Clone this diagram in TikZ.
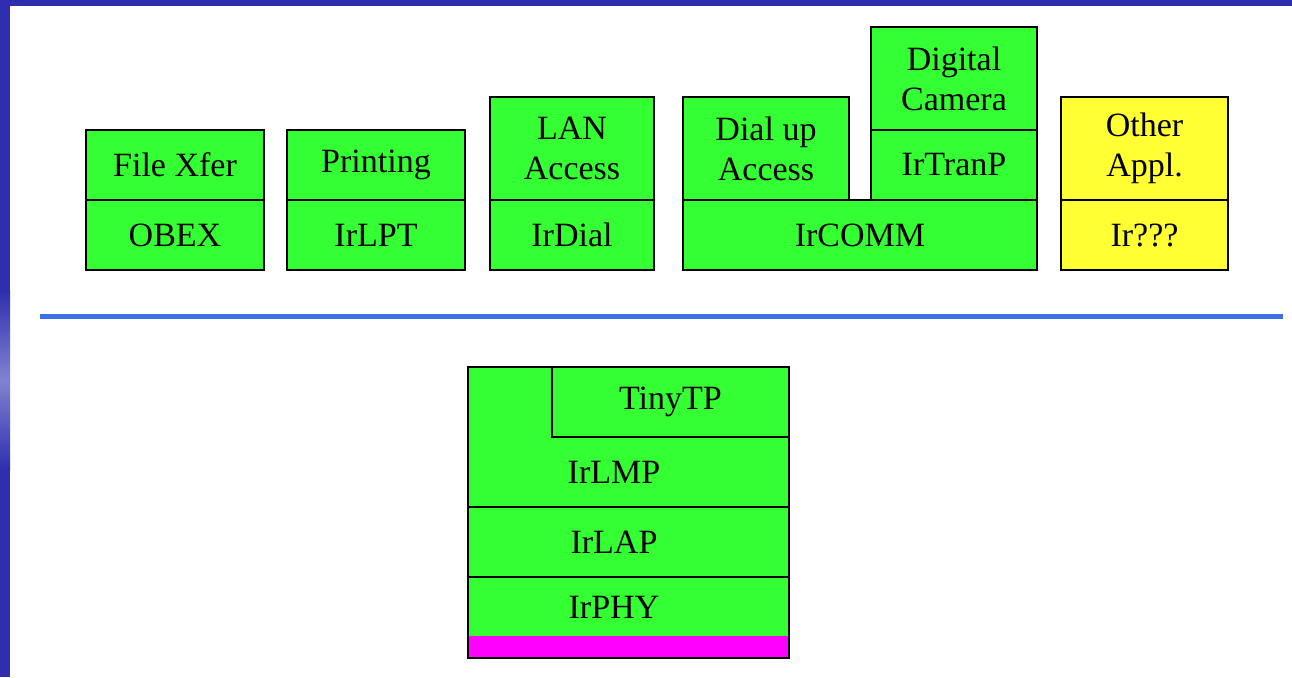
\documentclass[tikz,border=0pt]{standalone}
\usepackage{fontspec}
\setmainfont{Liberation Serif}
\begin{document}
\begin{tikzpicture}[x=0.5pt,y=-0.5pt,
  cell/.style={draw=black,line width=1pt,fill=cgreen,inner sep=0pt,outer sep=0pt,
    anchor=north west,align=center,font=\fontsize{17}{20}\selectfont},
  ycell/.style={cell,fill=cyellow},
  lbl/.style={inner sep=0pt,font=\fontsize{17}{20}\selectfont}]
\definecolor{cgreen}{HTML}{33FF33}
\definecolor{cyellow}{HTML}{FFFF33}
\definecolor{cmag}{HTML}{FF00FF}
\definecolor{cframe}{HTML}{2E2EAE}
\definecolor{clight}{HTML}{8282D2}
\definecolor{cline}{HTML}{3D6FE6}
\useasboundingbox (0,0) rectangle (1292,677);
\fill[white] (0,0) rectangle (1292,677);
% frame
\fill[cframe] (0,0) rectangle (1292,6);
\fill[cframe] (0,0) rectangle (10,677);
\shade[top color=cframe,bottom color=clight] (0,290) rectangle (10,380);
\shade[top color=clight,bottom color=cframe] (0,380) rectangle (10,470);
% application boxes
\node[cell,minimum width=89pt,minimum height=35pt] (filexfer) at (86,130) {File Xfer};
\node[cell,minimum width=89pt,minimum height=35pt] (obex) at (86,200) {OBEX};
\node[cell,minimum width=89pt,minimum height=35pt] (printing) at (287,130) {Printing};
\node[cell,minimum width=89pt,minimum height=35pt] (irlpt) at (287,200) {IrLPT};
\node[cell,minimum width=82pt,minimum height=51.5pt] (lan) at (490,97) {LAN\\Access};
\node[cell,minimum width=82pt,minimum height=35pt] (irdial) at (490,200) {IrDial};
\node[cell,minimum width=83pt,minimum height=51.5pt] (dialup) at (683,97) {Dial up\\Access};
\node[cell,minimum width=83pt,minimum height=51.5pt] (camera) at (871,27) {Digital\\Camera};
\node[cell,minimum width=83pt,minimum height=35pt] (irtranp) at (871,130) {IrTranP};
\node[cell,minimum width=177pt,minimum height=35pt] (ircomm) at (683,200) {IrCOMM};
\node[ycell,minimum width=83.5pt,minimum height=51.5pt] (other) at (1061,97) {Other\\Appl.};
\node[ycell,minimum width=83.5pt,minimum height=35pt] (irq) at (1061,200) {Ir???};
% separator
\coordinate (sepl) at (40,316);
\coordinate (sepr) at (1283,316);
\draw[cline,line width=2.5pt] (sepl) -- (sepr);
% lower stack
\node[cell,minimum width=160.5pt,minimum height=70pt] (irlmpbox) at (468,367) {};
\node[lbl] (irlmp) at (614,472) {IrLMP};
\node[cell,minimum width=118.5pt,minimum height=35pt] (tinytp) at (552,367) {TinyTP};
\node[cell,minimum width=160.5pt,minimum height=35pt] (irlapbox) at (468,507) {};
\node[lbl] (irlap) at (614,542) {IrLAP};
\node[cell,minimum width=160.5pt,minimum height=40.5pt] (irphybox) at (468,577) {};
\node[lbl] (irphy) at (614,607) {IrPHY};
\fill[cmag] (469,636) rectangle (788,657);
\draw[line width=1pt] (468,636) -- (468,658) -- (789,658) -- (789,636);
\end{tikzpicture}
\end{document}
